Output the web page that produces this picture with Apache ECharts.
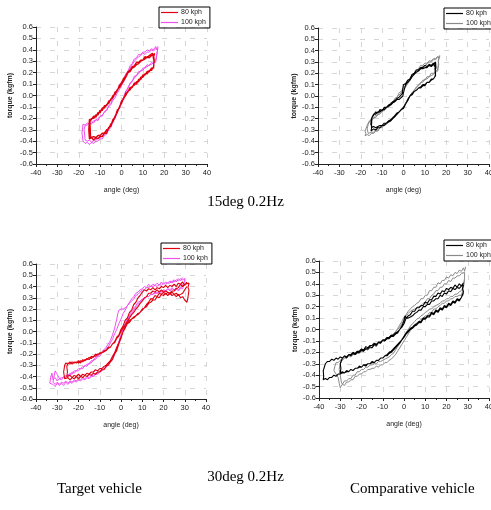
<!DOCTYPE html>
<html>
<head>
<meta charset="utf-8">
<script src="https://cdn.jsdelivr.net/npm/echarts@6/dist/echarts.min.js"></script>
<style>
  html, body { margin: 0; padding: 0; background: #fff; }
  #chart { width: 491px; height: 510px; }
</style>
</head>
<body>
<div id="chart"></div>
<script>
// tick values
const xTicks = [-40, -30, -20, -10, 0, 10, 20, 30, 40]
const yTicks = [-0.6, -0.5, -0.4, -0.3, -0.2, -0.1, 0.0, 0.1, 0.2, 0.3, 0.4, 0.5, 0.6]
const speedNames = ['80 kph', '100 kph']

// 15deg 0.2Hz, target vehicle
const tl80 = [[15.5,0.37],[15,0.34],[14.5,0.37],[13,0.35],[12,0.33],[11,0.34],[10,0.31],[9,0.31],[8,0.29],[7,0.29],[6,0.26],[5,0.25],[4,0.22],[3,0.21],[2,0.17],[1,0.15],[0,0.11],[-1,0.09],[-2,0.04],[-3,0.03],[-4,-0.02],[-5,-0.03],[-6,-0.07],[-7,-0.08],[-8,-0.11],[-9,-0.11],[-10,-0.15],[-11,-0.15],[-12,-0.19],[-13,-0.18],[-14,-0.21],[-15,-0.21],[-15.3,-0.3],[-15,-0.38],[-14,-0.37],[-13,-0.39],[-12,-0.37],[-11,-0.38],[-10,-0.36],[-9,-0.36],[-8,-0.33],[-7,-0.33],[-6,-0.28],[-5,-0.27],[-4,-0.21],[-3,-0.19],[-2,-0.13],[-1,-0.11],[0,-0.05],[1,-0.03],[2,0.02],[3,0.03],[4,0.07],[5,0.07],[6,0.11],[7,0.1],[8,0.14],[9,0.14],[10,0.18],[11,0.18],[12,0.21],[13,0.21],[14,0.24],[15,0.24],[15.2,0.3],[14.8,0.34],[15.5,0.36],
  [14,0.35],[13,0.33],[12,0.34],[11,0.32],[10,0.31],[9,0.3],[8,0.28],[7,0.27],[6,0.25],[5,0.24],[4,0.21],[3,0.2],[2,0.16],[1,0.13],[0,0.1],[-1,0.07],[-2,0.05],[-3,0.01],[-4,0.0],[-5,-0.04],[-6,-0.05],[-7,-0.09],[-8,-0.09],[-9,-0.13],[-10,-0.13],[-11,-0.17],[-12,-0.17],[-13,-0.2],[-14,-0.2],[-14.8,-0.23],[-14.6,-0.31],[-14.5,-0.37],[-13,-0.36],[-12,-0.37],[-11,-0.35],[-10,-0.35],[-9,-0.33],[-8,-0.33],[-7,-0.3],[-6,-0.29],[-5,-0.25],[-4,-0.23],[-3,-0.18],[-2,-0.15],[-1,-0.1],[0,-0.07],[1,-0.02],[2,0.0],[3,0.04],[4,0.05],[5,0.08],[6,0.09],[7,0.12],[8,0.12],[9,0.16],[10,0.16],[11,0.19],[12,0.19],[13,0.22],[14,0.22],[15,0.25],[15.3,0.31],[15,0.35]]
const tl100 = [[17,0.42],[16.5,0.4],[16,0.43],[15,0.4],[14,0.41],[13,0.39],[12,0.4],[11,0.38],[10,0.38],[9,0.36],[8,0.36],[7,0.33],[6,0.32],[5,0.28],[4,0.26],[3,0.21],[2,0.19],[1,0.14],[0,0.12],[-1,0.07],[-2,0.05],[-3,0.0],[-4,-0.02],[-5,-0.07],[-6,-0.09],[-7,-0.13],[-8,-0.14],[-9,-0.18],[-10,-0.18],[-11,-0.22],[-12,-0.21],[-13,-0.24],[-14,-0.23],[-15,-0.25],[-16,-0.24],[-17,-0.26],[-18,-0.25],[-18.5,-0.33],[-18,-0.4],[-17,-0.42],[-16,-0.41],[-15,-0.43],[-14,-0.41],[-13,-0.42],[-12,-0.4],[-11,-0.4],[-10,-0.38],[-9,-0.38],[-8,-0.35],[-7,-0.34],[-6,-0.3],[-5,-0.28],[-4,-0.23],[-3,-0.2],[-2,-0.14],[-1,-0.11],[0,-0.05],[1,-0.02],[2,0.04],[3,0.06],[4,0.11],[5,0.12],[6,0.17],[7,0.17],[8,0.21],[9,0.21],[10,0.24],[11,0.24],[12,0.27],[13,0.26],[14,0.29],[15,0.28],[16,0.31],[16.5,0.36],[17,0.41],
  [16,0.41],[15,0.39],[14,0.4],[13,0.38],[12,0.38],[11,0.36],[10,0.37],[9,0.35],[8,0.34],[7,0.32],[6,0.3],[5,0.27],[4,0.24],[3,0.2],[2,0.16],[1,0.12],[0,0.09],[-1,0.05],[-2,0.02],[-3,-0.02],[-4,-0.04],[-5,-0.08],[-6,-0.1],[-7,-0.13],[-8,-0.15],[-9,-0.17],[-10,-0.19],[-11,-0.2],[-12,-0.22],[-13,-0.22],[-14,-0.25],[-15,-0.24],[-16,-0.26],[-17,-0.26],[-17.5,-0.3],[-17,-0.39],[-16,-0.4],[-15,-0.39],[-14,-0.41],[-13,-0.39],[-12,-0.39],[-11,-0.37],[-10,-0.37],[-9,-0.35],[-8,-0.34],[-7,-0.32],[-6,-0.29],[-5,-0.27],[-4,-0.22],[-3,-0.2],[-2,-0.14],[-1,-0.11],[0,-0.06],[1,-0.02],[2,0.03],[3,0.07],[4,0.1],[5,0.13],[6,0.15],[7,0.18],[8,0.19],[9,0.22],[10,0.22],[11,0.25],[12,0.25],[13,0.27],[14,0.27],[15,0.29],[16,0.29],[16.5,0.35],[17,0.43]]

// 15deg 0.2Hz, comparative vehicle
const tr80 = [[15,0.29],[14.5,0.26],[14,0.29],[13,0.27],[12,0.28],[11,0.26],[10,0.27],[9,0.25],[8,0.25],[7,0.23],[6,0.23],[5,0.2],[4,0.19],[3,0.15],[2,0.14],[1,0.11],[0,0.1],[-0.3,0.07],[-0.6,0.02],[-1,0.03],[-2,-0.01],[-3,-0.02],[-4,-0.04],[-5,-0.05],[-6,-0.07],[-7,-0.08],[-8,-0.1],[-9,-0.1],[-10,-0.13],[-11,-0.12],[-12,-0.15],[-13,-0.14],[-14,-0.17],[-14.5,-0.16],[-15,-0.2],[-15.3,-0.25],[-14.8,-0.27],[-15.2,-0.31],[-14,-0.29],[-13,-0.3],[-12,-0.28],[-11,-0.28],[-10,-0.26],[-9,-0.26],[-8,-0.24],[-7,-0.23],[-6,-0.22],[-5,-0.2],[-4,-0.18],[-3,-0.16],[-2,-0.14],[-1,-0.12],[0,-0.1],[1,-0.07],[2,-0.03],[3,0.0],[4,0.02],[5,0.04],[6,0.05],[7,0.07],[8,0.07],[9,0.09],[10,0.09],[11,0.12],[12,0.12],[13,0.15],[14,0.15],[15,0.18],[14.8,0.22],[15.2,0.25],[15,0.3],
  [14,0.28],[13,0.26],[12,0.27],[11,0.25],[10,0.25],[9,0.24],[8,0.24],[7,0.22],[6,0.21],[5,0.19],[4,0.17],[3,0.14],[2,0.12],[1,0.1],[0.3,0.09],[0,0.03],[-0.3,0.0],[-1,-0.01],[-2,-0.03],[-3,-0.03],[-4,-0.05],[-5,-0.06],[-6,-0.08],[-7,-0.09],[-8,-0.1],[-9,-0.12],[-10,-0.12],[-11,-0.14],[-12,-0.14],[-13,-0.16],[-14,-0.16],[-14.8,-0.19],[-15,-0.28],[-14,-0.27],[-13,-0.28],[-12,-0.27],[-11,-0.26],[-10,-0.26],[-9,-0.24],[-8,-0.24],[-7,-0.22],[-6,-0.21],[-5,-0.19],[-4,-0.17],[-3,-0.15],[-2,-0.14],[-1,-0.12],[0,-0.11],[1,-0.07],[2,-0.04],[3,0.0],[4,0.01],[5,0.04],[6,0.05],[7,0.07],[8,0.08],[9,0.1],[10,0.1],[11,0.12],[12,0.12],[13,0.14],[14,0.15],[14.7,0.17],[15,0.2],[14.7,0.24],[15,0.28]]
const tr100 = [[17,0.36],[16.5,0.33],[16,0.35],[15,0.33],[14,0.33],[13,0.31],[12,0.31],[11,0.29],[10,0.29],[9,0.27],[8,0.27],[7,0.24],[6,0.23],[5,0.2],[4,0.19],[3,0.15],[2,0.13],[1,0.09],[0,0.08],[-1,0.04],[-2,0.03],[-3,-0.01],[-4,-0.02],[-5,-0.06],[-6,-0.06],[-7,-0.1],[-8,-0.1],[-9,-0.13],[-10,-0.13],[-11,-0.16],[-12,-0.16],[-13,-0.19],[-14,-0.19],[-15,-0.22],[-16,-0.22],[-17,-0.26],[-17.5,-0.27],[-18,-0.31],[-17.6,-0.33],[-18,-0.35],[-17,-0.34],[-16,-0.35],[-15,-0.33],[-14,-0.33],[-13,-0.31],[-12,-0.31],[-11,-0.28],[-10,-0.28],[-9,-0.25],[-8,-0.25],[-7,-0.22],[-6,-0.22],[-5,-0.19],[-4,-0.19],[-3,-0.15],[-2,-0.14],[-1,-0.11],[0,-0.1],[1,-0.06],[2,-0.04],[3,0.0],[4,0.02],[5,0.05],[6,0.07],[7,0.1],[8,0.11],[9,0.14],[10,0.14],[11,0.17],[12,0.17],[13,0.2],[14,0.2],[15,0.22],[16,0.23],[16.5,0.28],[16.2,0.31],[17,0.35],
  [16,0.34],[15,0.32],[14,0.32],[13,0.3],[12,0.3],[11,0.28],[10,0.27],[9,0.26],[8,0.25],[7,0.23],[6,0.21],[5,0.19],[4,0.17],[3,0.14],[2,0.11],[1,0.08],[0,0.06],[-1,0.03],[-2,0.01],[-3,-0.01],[-4,-0.03],[-5,-0.05],[-6,-0.07],[-7,-0.08],[-8,-0.11],[-9,-0.11],[-10,-0.14],[-11,-0.14],[-12,-0.17],[-13,-0.17],[-14,-0.2],[-15,-0.2],[-16,-0.23],[-16.5,-0.25],[-17,-0.29],[-16.5,-0.33],[-15,-0.32],[-14,-0.32],[-13,-0.3],[-12,-0.3],[-11,-0.28],[-10,-0.27],[-9,-0.26],[-8,-0.25],[-7,-0.23],[-6,-0.21],[-5,-0.2],[-4,-0.18],[-3,-0.16],[-2,-0.14],[-1,-0.12],[0,-0.1],[1,-0.06],[2,-0.03],[3,0.0],[4,0.03],[5,0.05],[6,0.08],[7,0.09],[8,0.12],[9,0.12],[10,0.15],[11,0.15],[12,0.17],[13,0.18],[14,0.19],[15,0.21],[16,0.22],[16.5,0.33]]

// 30deg 0.2Hz, target vehicle
const bl80 = [[31,0.44],[30,0.41],[29,0.44],[28,0.42],[27,0.43],[26,0.4],[25,0.42],[24,0.4],[23,0.41],[22,0.39],[21,0.41],[20,0.39],[19,0.4],[18,0.38],[17,0.39],[16,0.37],[15,0.39],[14,0.37],[13,0.38],[12,0.36],[11,0.37],[10,0.35],[9.5,0.36],[9,0.32],[8,0.3],[7,0.26],[6,0.24],[5,0.19],[4,0.17],[3,0.12],[2,0.1],[1,0.05],[0,0.02],[-1,-0.03],[-2,-0.05],[-3,-0.09],[-4,-0.11],[-5,-0.14],[-6,-0.14],[-7,-0.17],[-8,-0.17],[-9,-0.19],[-10,-0.19],[-11,-0.21],[-12,-0.2],[-13,-0.23],[-14,-0.22],[-15,-0.25],[-16,-0.24],[-17,-0.26],[-18,-0.25],[-19,-0.28],[-20,-0.26],[-21,-0.28],[-22,-0.27],[-23,-0.29],[-24,-0.27],[-25,-0.29],[-26,-0.28],[-26.5,-0.3],[-27,-0.36],[-26.5,-0.42],[-25,-0.41],[-24,-0.43],[-23,-0.41],[-22,-0.42],[-21,-0.4],[-20,-0.42],[-19,-0.4],[-18,-0.41],[-17,-0.39],[-16,-0.4],[-15,-0.38],[-14,-0.39],[-13,-0.37],[-12,-0.38],[-11,-0.36],[-10,-0.36],[-9,-0.34],[-8,-0.34],[-7,-0.31],[-6,-0.3],[-5,-0.27],[-4,-0.25],[-3,-0.2],[-2,-0.17],[-1,-0.11],[0,-0.06],[1,0.0],[2,0.03],[3,0.07],[4,0.08],[5,0.11],[6,0.12],[7,0.14],[8,0.15],[9,0.17],[10,0.19],[11,0.21],[12,0.22],[13,0.25],[14,0.26],[15,0.28],[16,0.28],[17,0.31],[18,0.3],[19,0.33],[20,0.32],[21,0.34],[22,0.32],[23,0.34],[24,0.32],[25,0.33],[26,0.31],[27,0.33],[28,0.3],[29,0.31],[30,0.28],[31,0.26],[31.5,0.3],[32,0.37],[31.5,0.39],[32,0.43],
  [30,0.42],[29,0.4],[28,0.42],[27,0.39],[26,0.38],[25,0.36],[24,0.36],[23,0.34],[22,0.35],[21,0.36],[20,0.35],[19,0.37],[18,0.35],[17,0.37],[16,0.35],[15,0.36],[14,0.34],[13,0.34],[12,0.31],[11,0.3],[10,0.27],[9,0.25],[8,0.22],[7,0.2],[6,0.17],[5,0.15],[4,0.12],[3,0.09],[2,0.06],[1,0.03],[0,0.0],[-1,-0.04],[-2,-0.06],[-3,-0.1],[-4,-0.11],[-5,-0.14],[-6,-0.15],[-7,-0.17],[-8,-0.18],[-9,-0.19],[-10,-0.2],[-11,-0.2],[-12,-0.22],[-13,-0.22],[-14,-0.24],[-15,-0.23],[-16,-0.25],[-17,-0.25],[-18,-0.27],[-19,-0.26],[-20,-0.28],[-21,-0.27],[-22,-0.28],[-23,-0.27],[-24,-0.29],[-25,-0.28],[-25.5,-0.31],[-25.2,-0.36],[-25.5,-0.4],[-24,-0.39],[-23,-0.41],[-22,-0.39],[-21,-0.4],[-20,-0.38],[-19,-0.4],[-18,-0.38],[-17,-0.39],[-16,-0.37],[-15,-0.38],[-14,-0.36],[-13,-0.36],[-12,-0.34],[-11,-0.35],[-10,-0.33],[-9,-0.33],[-8,-0.31],[-7,-0.3],[-6,-0.28],[-5,-0.26],[-4,-0.22],[-3,-0.19],[-2,-0.14],[-1,-0.1],[0,-0.05],[1,0.0],[2,0.04],[3,0.07],[4,0.1],[5,0.11],[6,0.13],[7,0.14],[8,0.16],[9,0.17],[10,0.2],[11,0.21],[12,0.24],[13,0.26],[14,0.29],[15,0.29],[16,0.32],[17,0.31],[18,0.34],[19,0.33],[20,0.35],[21,0.33],[22,0.35],[23,0.33],[24,0.35],[25,0.33],[26,0.34],[27,0.32],[28,0.33],[29,0.34],[30,0.37],[31,0.4]]
const bl100 = [[29,0.48],[28,0.45],[27,0.47],[26,0.44],[25,0.46],[24,0.43],[23,0.45],[22,0.43],[21,0.44],[20,0.42],[19,0.44],[18,0.41],[17,0.43],[16,0.41],[15,0.42],[14,0.4],[13,0.42],[12,0.39],[11,0.4],[10,0.38],[9,0.37],[8,0.35],[7,0.34],[6,0.31],[5,0.29],[4,0.26],[3,0.23],[2,0.19],[1,0.16],[0,0.11],[-1,0.07],[-2,0.02],[-3,-0.02],[-4,-0.07],[-5,-0.1],[-6,-0.14],[-7,-0.15],[-8,-0.18],[-9,-0.19],[-10,-0.22],[-11,-0.22],[-12,-0.25],[-13,-0.25],[-14,-0.28],[-15,-0.28],[-16,-0.31],[-17,-0.3],[-18,-0.33],[-19,-0.33],[-20,-0.35],[-21,-0.35],[-22,-0.37],[-23,-0.36],[-24,-0.39],[-25,-0.38],[-26,-0.41],[-27,-0.4],[-28,-0.43],[-29,-0.42],[-30,-0.44],[-31,-0.41],[-32,-0.43],[-32.5,-0.37],[-33,-0.4],[-33.5,-0.46],[-32,-0.47],[-31,-0.49],[-30,-0.46],[-29,-0.48],[-28,-0.46],[-27,-0.48],[-26,-0.45],[-25,-0.47],[-24,-0.45],[-23,-0.46],[-22,-0.44],[-21,-0.45],[-20,-0.43],[-19,-0.44],[-18,-0.42],[-17,-0.43],[-16,-0.41],[-15,-0.42],[-14,-0.4],[-13,-0.4],[-12,-0.38],[-11,-0.38],[-10,-0.36],[-9,-0.35],[-8,-0.33],[-7,-0.32],[-6,-0.29],[-5,-0.27],[-4,-0.24],[-3,-0.2],[-2,-0.15],[-1,-0.1],[0,-0.04],[1,0.01],[2,0.06],[3,0.1],[4,0.13],[5,0.16],[6,0.19],[7,0.22],[8,0.24],[9,0.26],[10,0.28],[11,0.29],[12,0.31],[13,0.31],[14,0.33],[15,0.33],[16,0.35],[17,0.34],[18,0.36],[19,0.35],[20,0.37],[21,0.36],[22,0.38],[23,0.37],[24,0.39],[25,0.37],[26,0.39],[27,0.37],[28,0.39],[29,0.38],[29.5,0.41],[30,0.47],
  [29,0.46],[28,0.47],[27,0.45],[26,0.46],[25,0.44],[24,0.45],[23,0.43],[22,0.43],[21,0.42],[20,0.43],[19,0.41],[18,0.42],[17,0.4],[16,0.41],[15,0.4],[14,0.4],[13,0.39],[12,0.39],[11,0.37],[10,0.37],[9,0.35],[8,0.33],[7,0.32],[6,0.29],[5,0.27],[4,0.25],[3,0.23],[2,0.21],[1,0.2],[0,0.2],[-1,0.19],[-1.5,0.16],[-2,0.11],[-3,0.03],[-4,-0.03],[-5,-0.08],[-6,-0.11],[-7,-0.14],[-8,-0.16],[-9,-0.18],[-10,-0.2],[-11,-0.22],[-12,-0.23],[-13,-0.26],[-14,-0.26],[-15,-0.29],[-16,-0.29],[-17,-0.31],[-18,-0.31],[-19,-0.33],[-20,-0.33],[-21,-0.35],[-22,-0.35],[-23,-0.38],[-24,-0.37],[-25,-0.4],[-26,-0.39],[-27,-0.41],[-28,-0.41],[-29,-0.42],[-30,-0.38],[-31,-0.35],[-31.5,-0.4],[-32,-0.45],[-31,-0.47],[-30,-0.45],[-29,-0.47],[-28,-0.45],[-27,-0.46],[-26,-0.44],[-25,-0.46],[-24,-0.44],[-23,-0.45],[-22,-0.43],[-21,-0.44],[-20,-0.42],[-19,-0.43],[-18,-0.41],[-17,-0.42],[-16,-0.4],[-15,-0.41],[-14,-0.39],[-13,-0.39],[-12,-0.37],[-11,-0.37],[-10,-0.35],[-9,-0.34],[-8,-0.32],[-7,-0.3],[-6,-0.28],[-5,-0.26],[-4,-0.23],[-3,-0.19],[-2,-0.15],[-1,-0.09],[0,-0.03],[1,0.02],[2,0.07],[3,0.11],[4,0.15],[5,0.18],[6,0.21],[7,0.23],[8,0.26],[9,0.27],[10,0.29],[11,0.29],[12,0.31],[13,0.31],[14,0.33],[15,0.33],[16,0.34],[17,0.34],[18,0.35],[19,0.35],[20,0.37],[21,0.36],[22,0.38],[23,0.36],[24,0.38],[25,0.37],[26,0.38],[27,0.36],[28,0.38],[29,0.42]]

// 30deg 0.2Hz, comparative vehicle
const br80 = [[28,0.41],[27,0.38],[26,0.4],[25,0.37],[24,0.39],[23,0.36],[22,0.37],[21,0.35],[20,0.36],[19,0.33],[18,0.34],[17,0.31],[16,0.32],[15,0.29],[14,0.29],[13,0.26],[12,0.26],[11,0.23],[10,0.24],[9,0.21],[8,0.21],[7,0.19],[6,0.19],[5,0.16],[4,0.16],[3,0.13],[2,0.12],[1,0.1],[0.5,0.1],[0,0.05],[-1,0.02],[-2,0.0],[-3,-0.03],[-4,-0.04],[-5,-0.06],[-6,-0.06],[-7,-0.08],[-8,-0.08],[-9,-0.1],[-10,-0.09],[-11,-0.12],[-12,-0.11],[-13,-0.14],[-14,-0.13],[-15,-0.16],[-16,-0.15],[-17,-0.17],[-18,-0.17],[-19,-0.19],[-20,-0.18],[-21,-0.2],[-22,-0.2],[-23,-0.22],[-24,-0.21],[-25,-0.23],[-26,-0.22],[-27,-0.25],[-28,-0.23],[-29,-0.25],[-30,-0.24],[-31,-0.26],[-32,-0.25],[-33,-0.27],[-34,-0.26],[-35,-0.28],[-36,-0.28],[-37,-0.3],[-37.5,-0.3],[-38,-0.36],[-37.8,-0.41],[-38,-0.44],[-37,-0.43],[-36,-0.44],[-35,-0.42],[-34,-0.42],[-33,-0.4],[-32,-0.41],[-31,-0.39],[-30,-0.39],[-29,-0.38],[-28,-0.38],[-27,-0.37],[-26,-0.37],[-25,-0.35],[-24,-0.36],[-23,-0.34],[-22,-0.34],[-21,-0.33],[-20,-0.33],[-19,-0.31],[-18,-0.32],[-17,-0.3],[-16,-0.3],[-15,-0.29],[-14,-0.29],[-13,-0.27],[-12,-0.27],[-11,-0.25],[-10,-0.25],[-9,-0.23],[-8,-0.23],[-7,-0.21],[-6,-0.2],[-5,-0.18],[-4,-0.16],[-3,-0.14],[-2,-0.12],[-1,-0.09],[0,-0.07],[1,-0.04],[2,-0.02],[3,0.0],[4,0.01],[5,0.03],[6,0.04],[7,0.06],[8,0.06],[9,0.09],[10,0.09],[11,0.11],[12,0.11],[13,0.14],[14,0.13],[15,0.16],[16,0.15],[17,0.18],[18,0.17],[19,0.2],[20,0.19],[21,0.22],[22,0.21],[23,0.24],[24,0.23],[25,0.26],[26,0.25],[27,0.28],[27.5,0.27],[28,0.33],[27.5,0.36],[28,0.39],
  [27,0.38],[26,0.36],[25,0.37],[24,0.35],[23,0.36],[22,0.33],[21,0.34],[20,0.31],[19,0.32],[18,0.29],[17,0.3],[16,0.27],[15,0.27],[14,0.25],[13,0.25],[12,0.22],[11,0.22],[10,0.2],[9,0.2],[8,0.17],[7,0.17],[6,0.15],[5,0.14],[4,0.12],[3,0.11],[2,0.1],[1,0.1],[0.5,0.12],[0,0.08],[-1,0.03],[-2,0.0],[-3,-0.02],[-4,-0.03],[-5,-0.05],[-6,-0.05],[-7,-0.07],[-8,-0.07],[-9,-0.09],[-10,-0.09],[-11,-0.11],[-12,-0.11],[-13,-0.13],[-14,-0.12],[-15,-0.14],[-16,-0.14],[-17,-0.16],[-18,-0.15],[-19,-0.18],[-20,-0.17],[-21,-0.19],[-22,-0.19],[-23,-0.21],[-24,-0.2],[-25,-0.22],[-26,-0.22],[-27,-0.24],[-28,-0.23],[-29,-0.25],[-29.5,-0.25],[-30,-0.3],[-29.7,-0.34],[-30,-0.38],[-29,-0.37],[-28,-0.38],[-27,-0.36],[-26,-0.37],[-25,-0.35],[-24,-0.36],[-23,-0.34],[-22,-0.34],[-21,-0.32],[-20,-0.33],[-19,-0.31],[-18,-0.31],[-17,-0.3],[-16,-0.3],[-15,-0.28],[-14,-0.29],[-13,-0.27],[-12,-0.27],[-11,-0.25],[-10,-0.25],[-9,-0.23],[-8,-0.22],[-7,-0.2],[-6,-0.19],[-5,-0.17],[-4,-0.15],[-3,-0.13],[-2,-0.11],[-1,-0.09],[0,-0.06],[1,-0.03],[2,-0.01],[3,0.01],[4,0.02],[5,0.04],[6,0.05],[7,0.07],[8,0.07],[9,0.1],[10,0.1],[11,0.12],[12,0.12],[13,0.15],[14,0.14],[15,0.17],[16,0.16],[17,0.19],[18,0.18],[19,0.21],[20,0.2],[21,0.23],[22,0.22],[23,0.25],[24,0.24],[25,0.27],[26,0.26],[27,0.28],[28,0.32]]
const br100 = [[29,0.55],[28.5,0.51],[28,0.54],[27,0.51],[26,0.52],[25,0.49],[24,0.5],[23,0.47],[22,0.48],[21,0.45],[20,0.46],[19,0.43],[18,0.43],[17,0.4],[16,0.41],[15,0.37],[14,0.37],[13,0.34],[12,0.34],[11,0.3],[10,0.3],[9,0.27],[8,0.27],[7,0.24],[6,0.23],[5,0.21],[4,0.2],[3,0.18],[2,0.16],[1,0.13],[0,0.11],[-1,0.07],[-2,0.04],[-3,0.01],[-4,-0.02],[-5,-0.04],[-6,-0.05],[-7,-0.07],[-8,-0.08],[-9,-0.1],[-10,-0.1],[-11,-0.12],[-12,-0.12],[-13,-0.15],[-14,-0.14],[-15,-0.16],[-16,-0.16],[-17,-0.18],[-18,-0.17],[-19,-0.19],[-20,-0.19],[-21,-0.21],[-22,-0.21],[-23,-0.22],[-24,-0.22],[-25,-0.24],[-26,-0.23],[-27,-0.25],[-28,-0.25],[-29,-0.27],[-30,-0.27],[-31,-0.29],[-32,-0.29],[-32.5,-0.32],[-33,-0.36],[-32,-0.39],[-31,-0.42],[-30.5,-0.47],[-30,-0.51],[-29,-0.48],[-28,-0.49],[-27,-0.46],[-26,-0.46],[-25,-0.44],[-24,-0.44],[-23,-0.41],[-22,-0.41],[-21,-0.39],[-20,-0.39],[-19,-0.37],[-18,-0.37],[-17,-0.35],[-16,-0.35],[-15,-0.34],[-14,-0.34],[-13,-0.32],[-12,-0.33],[-11,-0.31],[-10,-0.31],[-9,-0.29],[-8,-0.29],[-7,-0.27],[-6,-0.26],[-5,-0.24],[-4,-0.22],[-3,-0.19],[-2,-0.16],[-1,-0.13],[0,-0.1],[1,-0.07],[2,-0.04],[3,-0.01],[4,0.02],[5,0.04],[6,0.06],[7,0.07],[8,0.09],[9,0.1],[10,0.12],[11,0.12],[12,0.15],[13,0.15],[14,0.18],[15,0.18],[16,0.2],[17,0.21],[18,0.23],[19,0.23],[20,0.25],[21,0.25],[22,0.27],[23,0.27],[24,0.29],[25,0.29],[26,0.3],[27,0.3],[27.5,0.33],[28,0.38],[28.5,0.45],[28.5,0.5],
  [27,0.49],[26,0.47],[25,0.47],[24,0.45],[23,0.45],[22,0.42],[21,0.43],[20,0.4],[19,0.4],[18,0.37],[17,0.37],[16,0.34],[15,0.34],[14,0.31],[13,0.3],[12,0.27],[11,0.27],[10,0.24],[9,0.23],[8,0.21],[7,0.2],[6,0.19],[5,0.18],[4,0.17],[3,0.16],[2,0.14],[1,0.12],[0,0.08],[-1,0.05],[-2,0.02],[-3,0.0],[-4,-0.02],[-5,-0.04],[-6,-0.05],[-7,-0.07],[-8,-0.08],[-9,-0.1],[-10,-0.1],[-11,-0.12],[-12,-0.12],[-13,-0.14],[-14,-0.14],[-15,-0.16],[-16,-0.16],[-17,-0.18],[-18,-0.17],[-19,-0.19],[-20,-0.19],[-21,-0.2],[-22,-0.2],[-23,-0.21],[-24,-0.21],[-25,-0.22],[-26,-0.22],[-27,-0.24],[-28,-0.24],[-29,-0.26],[-30,-0.3],[-30.5,-0.35],[-30,-0.4],[-29.5,-0.46],[-29,-0.48],[-28,-0.45],[-27,-0.45],[-26,-0.43],[-25,-0.43],[-24,-0.4],[-23,-0.4],[-22,-0.37],[-21,-0.37],[-20,-0.35],[-19,-0.35],[-18,-0.33],[-17,-0.33],[-16,-0.31],[-15,-0.31],[-14,-0.3],[-13,-0.3],[-12,-0.28],[-11,-0.28],[-10,-0.27],[-9,-0.26],[-8,-0.25],[-7,-0.24],[-6,-0.22],[-5,-0.21],[-4,-0.18],[-3,-0.15],[-2,-0.12],[-1,-0.09],[0,-0.06],[1,-0.03],[2,0.0],[3,0.03],[4,0.05],[5,0.07],[6,0.09],[7,0.1],[8,0.12],[9,0.13],[10,0.15],[11,0.16],[12,0.18],[13,0.18],[14,0.2],[15,0.21],[16,0.22],[17,0.23],[18,0.25],[19,0.25],[20,0.27],[21,0.27],[22,0.29],[23,0.29],[24,0.31],[25,0.31],[26,0.33],[27,0.34],[28,0.38],[28.5,0.44]]

const chart = echarts.init(document.getElementById('chart'))

const font = 'Liberation Sans, Arial, sans-serif'
const serif = 'Liberation Serif, Times New Roman, serif'

// panel boxes: left, top, width, height
const panels = [
  { left: 36, top: 27, width: 171, height: 137 },
  { left: 318, top: 28, width: 171, height: 136 },
  { left: 36, top: 264, width: 170, height: 135 },
  { left: 319, top: 261, width: 170, height: 137 },
]
const legendPos = [
  { left: 159, top: 7 },
  { left: 444, top: 8 },
  { left: 161, top: 243 },
  { left: 444, top: 240 },
]

const gridLine = { show: true, lineStyle: { color: '#d6d6d6', width: 1, type: [5, 9] } }

const xAxes = panels.map((p, i) => ({
  gridIndex: i,
  type: 'value',
  min: xTicks[0],
  max: xTicks[xTicks.length - 1],
  interval: 10,
  name: 'angle (deg)',
  nameLocation: 'middle',
  nameGap: 23,
  nameTextStyle: { fontFamily: font, fontSize: 7, color: '#222' },
  axisLine: { onZero: false, lineStyle: { color: '#222', width: 1 } },
  axisTick: { length: 3, lineStyle: { color: '#222' } },
  minorTick: { show: true, splitNumber: 2, length: 2, lineStyle: { color: '#222' } },
  axisLabel: { fontFamily: font, fontSize: 7.5, color: '#222', margin: 5 },
  splitLine: gridLine,
}))

const yAxes = panels.map((p, i) => ({
  gridIndex: i,
  type: 'value',
  min: yTicks[0],
  max: yTicks[yTicks.length - 1],
  interval: 0.1,
  name: 'torque (kgfm)',
  nameLocation: 'middle',
  nameGap: i % 2 === 0 ? 22 : 20,
  nameTextStyle: { fontFamily: font, fontSize: 7, fontWeight: 'bold', color: '#222' },
  axisLine: { onZero: false, lineStyle: { color: '#222', width: 1 } },
  axisTick: { length: 3, lineStyle: { color: '#222' } },
  axisLabel: {
    fontFamily: font, fontSize: 7.5, color: '#222', margin: 3,
    formatter: v => (Math.round(v * 10) / 10).toFixed(1),
  },
  splitLine: gridLine,
}))

// target vehicle: red / magenta, comparative: black / gray
// (trailing space keeps the legend colours apart)
const redNames = speedNames
const grayNames = speedNames.map(n => n + ' ')

function line(name, data, idx, color, width) {
  return {
    name: name,
    type: 'line',
    xAxisIndex: idx,
    yAxisIndex: idx,
    data: data,
    showSymbol: false,
    symbol: 'none',
    silent: true,
    lineStyle: { color: color, width: width },
    itemStyle: { color: color },
  }
}

const series = [
  line(redNames[1], tl100, 0, '#f050f0', 1),
  line(redNames[0], tl80, 0, '#e00010', 1.4),
  line(grayNames[1], tr100, 1, '#8a8a8a', 1),
  line(grayNames[0], tr80, 1, '#000000', 1.1),
  line(redNames[1], bl100, 2, '#f050f0', 1),
  line(redNames[0], bl80, 2, '#e00010', 1.1),
  line(grayNames[1], br100, 3, '#8a8a8a', 1),
  line(grayNames[0], br80, 3, '#000000', 1.1),
]

const legends = legendPos.map((p, i) => ({
  left: p.left,
  top: p.top,
  orient: 'vertical',
  data: i % 2 === 0 ? redNames : grayNames,
  icon: 'rect',
  itemWidth: 17,
  itemHeight: 1.2,
  itemGap: 3,
  padding: [2, 4, 2, 2],
  borderColor: '#000',
  borderWidth: 1,
  borderRadius: 0,
  selectedMode: false,
  textStyle: { fontFamily: font, fontSize: 7, color: '#222', padding: [0, 0, 0, -2] },
}))

chart.setOption({
  animation: false,
  backgroundColor: '#fff',
  grid: panels.map(p => ({
    left: p.left, top: p.top, width: p.width, height: p.height,
    containLabel: false, outerBoundsMode: 'none',
  })),
  xAxis: xAxes,
  yAxis: yAxes,
  legend: legends,
  series: series,
  graphic: [
    { type: 'text', left: 'center', top: 195, style: { text: '15deg 0.2Hz', font: '15px ' + serif, fill: '#000' } },
    { type: 'text', left: 'center', top: 470, style: { text: '30deg 0.2Hz', font: '15px ' + serif, fill: '#000' } },
    { type: 'text', left: 57, top: 482, style: { text: 'Target vehicle', font: '15px ' + serif, fill: '#000' } },
    { type: 'text', left: 350, top: 482, style: { text: 'Comparative vehicle', font: '15px ' + serif, fill: '#000' } },
  ],
})

window.addEventListener('resize', () => {
  chart.resize()
})
</script>
</body>
</html>
